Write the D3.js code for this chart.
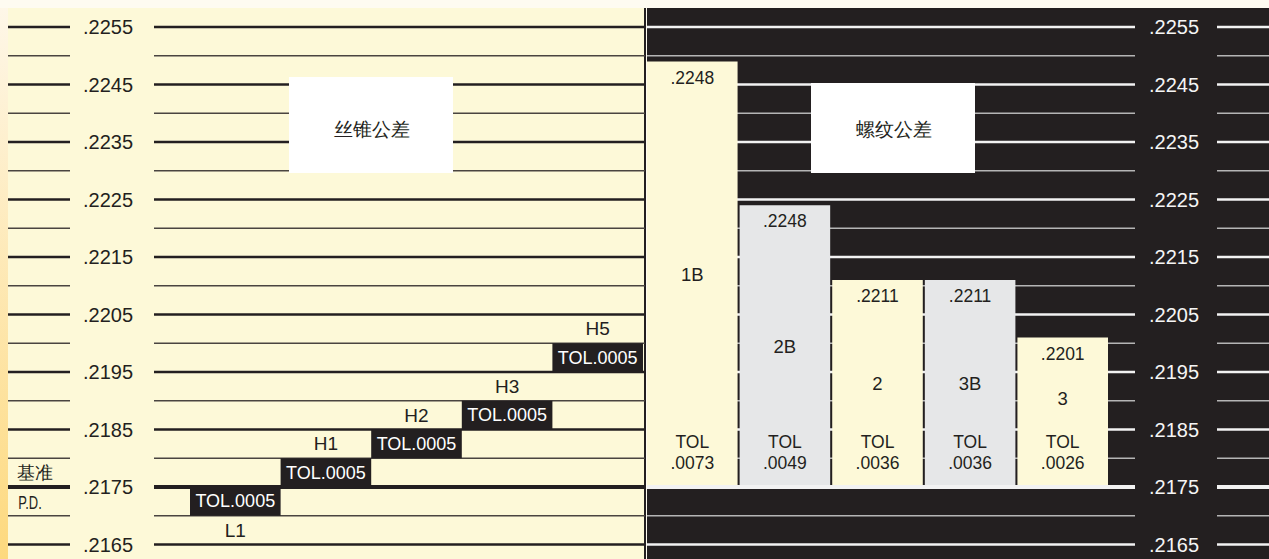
<!DOCTYPE html>
<html>
<head>
<meta charset="utf-8">
<script src="https://cdn.jsdelivr.net/npm/d3@7"></script>
<style>
  body { margin: 0; background: #fefbf1; }
  svg { display: block; }
  text { font-family: "Liberation Sans", Arial, sans-serif; }
</style>
</head>
<body>
<div id="chart"></div>
<script>
const majorTicks = [0.2255, 0.2245, 0.2235, 0.2225, 0.2215, 0.2205, 0.2195, 0.2185, 0.2175, 0.2165];
const tickLabels = [".2255", ".2245", ".2235", ".2225", ".2215", ".2205", ".2195", ".2185", ".2175", ".2165"];
const minorTicks = [0.2250, 0.2240, 0.2230, 0.2220, 0.2210, 0.2200, 0.2190, 0.2180, 0.2170];
const pitchDiameter = 0.2175;

// tap tolerance steps (left)
const tapNames = ["L1", "H1", "H2", "H3", "H5"];
const tapLow = [0.2170, 0.2175, 0.2180, 0.2185, 0.2195];
const tapHigh = [0.2175, 0.2180, 0.2185, 0.2190, 0.2200];
const tapTol = ["TOL.0005", "TOL.0005", "TOL.0005", "TOL.0005", "TOL.0005"];

// thread classes (right)
const classNames = ["1B", "2B", "2", "3B", "3"];
const classTop = [0.22490, 0.2224, 0.2211, 0.2211, 0.2201];
const classTopLabels = [".2248", ".2248", ".2211", ".2211", ".2201"];
const classTol = [".0073", ".0049", ".0036", ".0036", ".0026"];

const width = 1269, height = 559;
const dark = "#231f20", cream = "#fdf9d8", grey = "#e6e7e8";

const svg = d3.select("#chart").append("svg")
  .attr("width", width).attr("height", height);

const defs = svg.append("defs");
const grad = defs.append("linearGradient").attr("id", "strip")
  .attr("x1", 0).attr("y1", 0).attr("x2", 0).attr("y2", 1);
grad.append("stop").attr("offset", "0%").attr("stop-color", "#fef7e8");
grad.append("stop").attr("offset", "100%").attr("stop-color", "#fdd97e");

const y = d3.scaleLinear().domain([0.2165, 0.2255]).range([544.5, 27]);

// backgrounds
svg.append("rect").attr("x", 0).attr("y", 0).attr("width", width).attr("height", height).attr("fill", "#fefbf1");
svg.append("rect").attr("x", 0).attr("y", 8).attr("width", 8).attr("height", height - 8).attr("fill", "url(#strip)");
svg.append("rect").attr("x", 8).attr("y", 8).attr("width", 637).attr("height", height - 8).attr("fill", cream);
svg.append("rect").attr("x", 644).attr("y", 8).attr("width", 2).attr("height", height - 8).attr("fill", dark);
svg.append("rect").attr("x", 647).attr("y", 8).attr("width", width - 647).attr("height", height - 8).attr("fill", dark);

// grid line segments
function drawLines(g, segs, majorCol, minorCol) {
  segs.forEach(([x0, x1]) => {
    g.selectAll(null).data(minorTicks).join("line")
      .attr("x1", x0).attr("x2", x1)
      .attr("y1", d => y(d)).attr("y2", d => y(d))
      .attr("stroke", minorCol).attr("stroke-width", 1.3);
    g.selectAll(null).data(majorTicks).join("line")
      .attr("x1", x0).attr("x2", x1)
      .attr("y1", d => y(d)).attr("y2", d => y(d))
      .attr("stroke", majorCol)
      .attr("stroke-width", d => d === pitchDiameter ? 4 : 2.5);
  });
}

const left = svg.append("g");
drawLines(left, [[8, 70], [154, 645]], dark, "#4a4540");

left.selectAll(".tick").data(majorTicks).join("text")
  .attr("x", 108).attr("y", d => y(d))
  .attr("text-anchor", "middle").attr("dominant-baseline", "central")
  .attr("font-size", 20).attr("fill", dark)
  .text((d, i) => tickLabels[i]);

left.append("text")
  .attr("x", 35).attr("y", y(pitchDiameter + 0.00025))
  .attr("text-anchor", "middle").attr("dominant-baseline", "central")
  .attr("font-family", "Noto Sans CJK SC").attr("font-size", 18).attr("fill", dark)
  .text("基准");
left.append("text")
  .attr("transform", `translate(30,${y(pitchDiameter - 0.00025) + 1}) scale(0.72,1)`)
  .attr("text-anchor", "middle").attr("dominant-baseline", "central")
  .attr("font-size", 18).attr("fill", dark)
  .text("P.D.");

// tap tolerance boxes
const xTap = d3.scaleBand().domain(tapNames).range([190, 643]);
const taps = left.selectAll(".tap").data(tapNames).join("g");
taps.append("rect")
  .attr("x", d => xTap(d)).attr("width", xTap.bandwidth())
  .attr("y", (d, i) => y(tapHigh[i]))
  .attr("height", (d, i) => y(tapLow[i]) - y(tapHigh[i]))
  .attr("fill", dark);
taps.append("text")
  .attr("x", d => xTap(d) + xTap.bandwidth() / 2)
  .attr("y", (d, i) => (y(tapLow[i]) + y(tapHigh[i])) / 2)
  .attr("text-anchor", "middle").attr("dominant-baseline", "central")
  .attr("font-size", 18).attr("fill", "#fff")
  .text((d, i) => tapTol[i]);
taps.append("text")
  .attr("x", d => xTap(d) + xTap.bandwidth() / 2)
  .attr("y", (d, i) => d[0] === "L" ? y(tapLow[i] - 0.00025) : y(tapHigh[i] + 0.00025))
  .attr("text-anchor", "middle").attr("dominant-baseline", "central")
  .attr("font-size", 19).attr("fill", dark)
  .text(d => d);

// right panel
const right = svg.append("g");
drawLines(right, [[647, 1135], [1217, 1269]], "#f2f2f2", "#b5b5b5");

right.selectAll(".tick").data(majorTicks).join("text")
  .attr("x", 1174).attr("y", d => y(d))
  .attr("text-anchor", "middle").attr("dominant-baseline", "central")
  .attr("font-size", 20).attr("fill", "#f5f5f5")
  .text((d, i) => tickLabels[i]);

const xCls = d3.scaleBand().domain(classNames).range([647, 1108]).paddingInner(0.022);
const bars = right.selectAll(".bar").data(classNames).join("g");
bars.append("rect")
  .attr("x", d => xCls(d)).attr("width", xCls.bandwidth())
  .attr("y", (d, i) => y(classTop[i]))
  .attr("height", (d, i) => y(pitchDiameter) - 2 - y(classTop[i]))
  .attr("fill", (d, i) => i % 2 ? grey : cream);
const cx = d => xCls(d) + xCls.bandwidth() / 2;
bars.append("text")
  .attr("x", cx).attr("y", (d, i) => y(classTop[i]) + 16)
  .attr("text-anchor", "middle").attr("dominant-baseline", "central")
  .attr("font-size", 17.5).attr("fill", dark)
  .text((d, i) => classTopLabels[i]);
bars.append("text")
  .attr("x", cx)
  .attr("y", (d, i) => Math.min((y(classTop[i]) + y(pitchDiameter)) / 2, y(pitchDiameter) - 89))
  .attr("text-anchor", "middle").attr("dominant-baseline", "central")
  .attr("font-size", 18.5).attr("fill", dark)
  .text(d => d);
bars.append("text")
  .attr("x", cx).attr("y", y(pitchDiameter) - 45)
  .attr("text-anchor", "middle").attr("dominant-baseline", "central")
  .attr("font-size", 17.5).attr("fill", dark)
  .text("TOL");
bars.append("text")
  .attr("x", cx).attr("y", y(pitchDiameter) - 24)
  .attr("text-anchor", "middle").attr("dominant-baseline", "central")
  .attr("font-size", 17.5).attr("fill", dark)
  .text((d, i) => classTol[i]);

// title boxes
const titles = [
  { x: 289, y: 77, w: 164, h: 96, t: "丝锥公差" },
  { x: 811, y: 83, w: 164, h: 90, t: "螺纹公差" }
];
titles.forEach(b => {
  svg.append("rect").attr("x", b.x).attr("y", b.y).attr("width", b.w).attr("height", b.h).attr("fill", "#fff");
  svg.append("text")
    .attr("x", b.x + b.w / 2 + 1).attr("y", 129)
    .attr("text-anchor", "middle").attr("dominant-baseline", "central")
    .attr("font-family", "Noto Sans CJK SC").attr("font-size", 19).attr("fill", dark)
    .text(b.t);
});
</script>
</body>
</html>
